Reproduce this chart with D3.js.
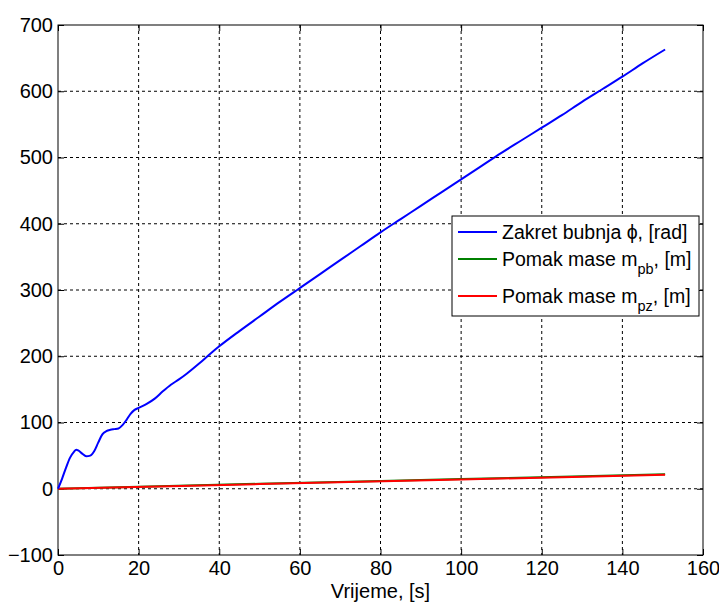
<!DOCTYPE html>
<html>
<head>
<meta charset="utf-8">
<script src="https://cdn.jsdelivr.net/npm/d3@7"></script>
<style>
  body { margin: 0; background: #fff; }
  text { font-family: Arial, "Liberation Sans", sans-serif; fill: #000; }
</style>
</head>
<body>
<div id="chart"></div>
<script>
// time axis values [s] and series
var phiTime = [0, 1, 2, 3, 4, 4.5, 5, 6, 7, 8, 9, 10, 11, 12, 13, 14, 15, 16, 17, 18, 19, 20, 22, 24, 26, 28, 30, 32, 35, 38, 40, 45, 50, 55, 60, 65, 70, 75, 80, 85, 90, 95, 100, 105, 110, 115, 120, 125, 130, 135, 140, 145, 150.6];
var phiValues = [0, 15, 32, 47, 56, 59, 58, 53, 49, 50, 57, 70, 82, 87, 89, 90, 91, 96, 104, 113, 119, 122, 128, 136, 147, 157, 165, 174, 189, 205, 215, 238, 260, 282, 303, 324, 345, 366, 387, 407, 427, 447, 467, 487, 507, 526, 545, 564, 584, 603, 622, 642, 663];

var massTime = [0, 25, 50, 75, 100, 125, 150.6];
var pbValues = [0, 3.9, 7.5, 11.0, 14.6, 18.2, 22];
var pzValues = [0, 3.5, 7.0, 10.5, 14.0, 17.5, 21];

var xTicks = [0, 20, 40, 60, 80, 100, 120, 140, 160];
var yTicks = [-100, 0, 100, 200, 300, 400, 500, 600, 700];

var legendItems = [
  { name: "Zakret bubnja \u03D5, [rad]", sub: null, color: "#0000ff" },
  { name: "Pomak mase m", sub: "pb", after: ", [m]", color: "#008000" },
  { name: "Pomak mase m", sub: "pz", after: ", [m]", color: "#ff0000" }
];

var width = 719, height = 604;
var margin = { top: 25, right: 16, bottom: 49, left: 58 };
var w = width - margin.left - margin.right;
var h = height - margin.top - margin.bottom;

var svg = d3.select("#chart").append("svg")
  .attr("width", width)
  .attr("height", height);

var g = svg.append("g")
  .attr("transform", "translate(" + margin.left + "," + margin.top + ")");

var x = d3.scaleLinear().domain([0, 160]).range([0, w]);
var y = d3.scaleLinear().domain([-100, 700]).range([h, 0]);

// grid
g.append("g").selectAll("line")
  .data(xTicks.slice(1, -1))
  .join("line")
  .attr("x1", d => x(d)).attr("x2", d => x(d))
  .attr("y1", 0).attr("y2", h)
  .attr("stroke", "#000").attr("stroke-width", 1)
  .attr("stroke-dasharray", "3,3");

g.append("g").selectAll("line")
  .data(yTicks.slice(1, -1))
  .join("line")
  .attr("x1", 0).attr("x2", w)
  .attr("y1", d => y(d)).attr("y2", d => y(d))
  .attr("stroke", "#000").attr("stroke-width", 1)
  .attr("stroke-dasharray", "3,3");

// axes with inward ticks
var xAxis = d3.axisBottom(x).tickValues(xTicks).tickSize(-6).tickPadding(6);
var yAxis = d3.axisLeft(y).tickValues(yTicks).tickSize(-6).tickPadding(5);

g.append("g").attr("transform", "translate(0," + h + ")").call(xAxis);
g.append("g").call(yAxis);
g.append("g").call(d3.axisTop(x).tickValues(xTicks).tickSize(-6).tickFormat(""));
g.append("g").attr("transform", "translate(" + w + ",0)")
  .call(d3.axisRight(y).tickValues(yTicks).tickSize(-6).tickFormat(""));

g.selectAll(".domain").remove();
g.selectAll(".tick line").attr("stroke", "#000");
g.selectAll(".tick text").style("font-size", "20px")
  .style("font-family", "Arial, 'Liberation Sans', sans-serif");

g.append("rect")
  .attr("width", w).attr("height", h)
  .attr("fill", "none").attr("stroke", "#000").attr("stroke-width", 1);

// lines
var line = d3.line()
  .x(d => x(d[0]))
  .y(d => y(d[1]));

g.append("path")
  .datum(massTime.map((t, i) => [t, pbValues[i]]))
  .attr("d", line)
  .attr("fill", "none").attr("stroke", "#008000").attr("stroke-width", 2);

g.append("path")
  .datum(massTime.map((t, i) => [t, pzValues[i]]))
  .attr("d", line)
  .attr("fill", "none").attr("stroke", "#ff0000").attr("stroke-width", 2);

g.append("path")
  .datum(phiTime.map((t, i) => [t, phiValues[i]]))
  .attr("d", line.curve(d3.curveMonotoneX))
  .attr("fill", "none").attr("stroke", "#0000ff").attr("stroke-width", 2);

// x label
svg.append("text")
  .attr("x", margin.left + w / 2)
  .attr("y", 598)
  .attr("text-anchor", "middle")
  .style("font-size", "20px")
  .text("Vrijeme, [s]");

// legend
var legend = svg.append("g").attr("transform", "translate(452,216)");
legend.append("rect")
  .attr("width", 247).attr("height", 100)
  .attr("fill", "#fff").attr("stroke", "#000").attr("stroke-width", 1);

var rowY = [16, 43, 80];
legendItems.forEach(function (item, i) {
  legend.append("line")
    .attr("x1", 6).attr("x2", 45)
    .attr("y1", rowY[i]).attr("y2", rowY[i])
    .attr("stroke", item.color).attr("stroke-width", 2);
  var t = legend.append("text")
    .attr("x", 50).attr("y", rowY[i] + 7)
    .style("font-size", "19.5px");
  t.append("tspan").text(item.name);
  if (item.sub) {
    t.append("tspan").attr("dy", 8).style("font-size", "14.5px").text(item.sub);
    t.append("tspan").attr("dy", -8).text(item.after);
  }
});
</script>
</body>
</html>
